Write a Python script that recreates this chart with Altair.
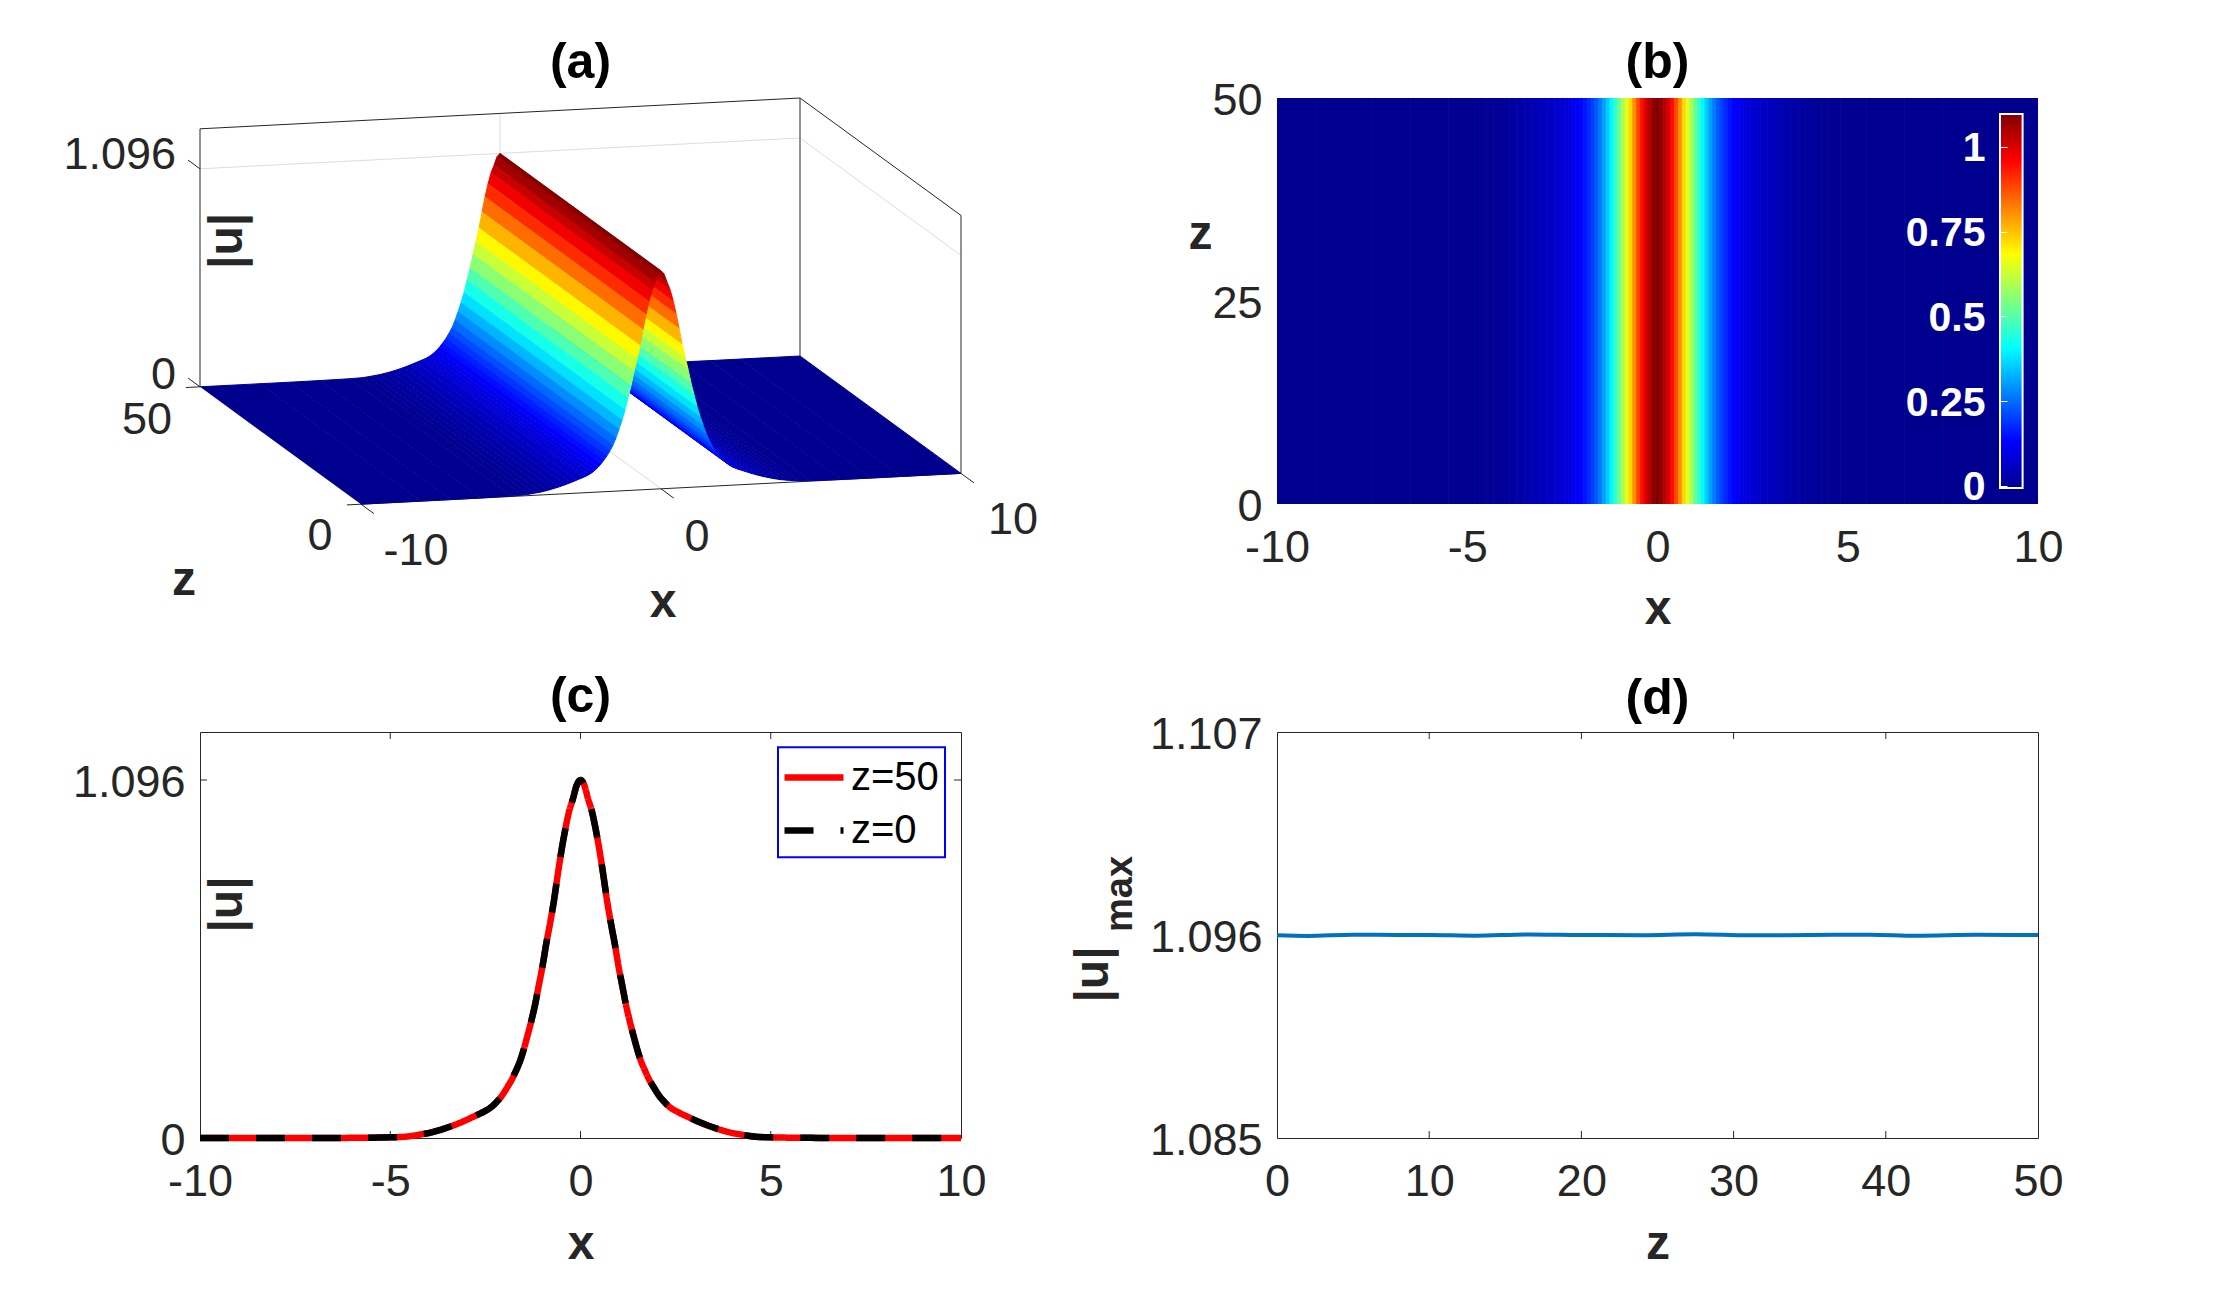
import altair as alt
import pandas as pd

# right half of the soliton profile, mirrored below
x_half = [0, 0.1, 0.2, 0.3, 0.4, 0.5, 0.6, 0.7, 0.8, 0.9, 1.0, 1.1, 1.2, 1.3, 1.4, 1.5, 1.6, 1.7, 1.8, 1.9,
          2.0, 2.1, 2.2, 2.3, 2.4, 2.5, 2.6, 2.8, 3.0, 3.2, 3.4, 3.6, 3.8, 4.0, 4.2, 4.4, 4.6, 5, 6, 7, 8, 10]
u_half = [1.096, 1.08, 1.038, 1.0, 0.945, 0.88, 0.805, 0.725, 0.657, 0.595, 0.525, 0.465, 0.405, 0.355, 0.31, 0.268,
          0.232, 0.205, 0.18, 0.16, 0.141, 0.124, 0.111, 0.099, 0.09, 0.083, 0.077, 0.066, 0.055, 0.045, 0.036,
          0.028, 0.021, 0.015, 0.011, 0.007, 0.004, 0.002, 0.0005, 0, 0, 0]

z_max = [0, 2, 5, 8, 10, 13, 16.5, 20, 24, 27.5, 31, 35, 39, 42, 46, 50]
u_max = [1.09598, 1.09595, 1.09602, 1.096, 1.096, 1.09596, 1.09603, 1.096, 1.09599, 1.09604, 1.09598, 1.096,
         1.09602, 1.09596, 1.09601, 1.096]

x_ticks = [-10, -5, 0, 5, 10]
z_ticks_d = [0, 10, 20, 30, 40, 50]
z_ticks_b = [0, 25, 50]
u_ticks_c = [0, 1.096]
u_ticks_d = [1.085, 1.096, 1.107]
bar_ticks = [0, 0.25, 0.5, 0.75, 1]

jet_stops = [0, 0.125, 0.375, 0.625, 0.875, 1]
jet_colors = ["#00008f", "#0000ff", "#00ffff", "#ffff00", "#ff0000", "#800000"]

W, H = 761, 406
FONT = "Liberation Sans"
INK = "#262626"
PEAK = 1.096
U_TOP = 1.297

JET = alt.Scale(domain=[s * PEAK for s in jet_stops], range=jet_colors, interpolate="rgb")

x_all = [-v for v in reversed(x_half[1:])] + x_half
u_all = list(reversed(u_half[1:])) + u_half


def axis(values, title, **kw):
    return alt.Axis(
        values=values, title=title, labelExpr="datum.value + ''", labelFont=FONT, labelFontSize=45,
        labelColor=INK, labelOverlap=False, labelFlush=False, labelBound=False, titleFont=FONT, titleFontSize=48,
        titleFontWeight="bold", titleColor=INK, titleBaseline="middle", ticks=False, tickSize=0, domain=False,
        grid=False, **kw,
    )


def x_axis(values, title, title_y=106):
    return axis(values, title, labelPadding=21, titleY=title_y, titleX=W / 2)


def y_axis(values, title, title_x, title_y, angle=270):
    return axis(values, title, labelPadding=15, labelOffset=2, titleAngle=angle, titleX=title_x, titleY=title_y)


def panel_title(text, offset):
    return alt.TitleParams(text, font=FONT, fontSize=50, fontWeight="bold", color="black", offset=offset)


def inner_ticks(xs, ys, x_scale, y_scale, x_ax, y_ax, length=7):
    # MATLAB style ticks pointing into the box, on all four sides
    xdf = pd.DataFrame({"t": xs})
    ydf = pd.DataFrame({"t": ys})
    tick = dict(color=INK, strokeWidth=1)
    x_enc = alt.X("t:Q", scale=x_scale, axis=x_ax)
    y_enc = alt.Y("t:Q", scale=y_scale, axis=y_ax)
    return [
        alt.Chart(xdf).mark_rule(**tick).encode(x=x_enc, y=alt.value(H), y2=alt.value(H - length)),
        alt.Chart(xdf).mark_rule(**tick).encode(x=x_enc, y=alt.value(0), y2=alt.value(length)),
        alt.Chart(ydf).mark_rule(**tick).encode(y=y_enc, x=alt.value(0), x2=alt.value(length)),
        alt.Chart(ydf).mark_rule(**tick).encode(y=y_enc, x=alt.value(W), x2=alt.value(W - length)),
    ]


# panel (a): oblique projection of (x, z, u) on the panel plane
def project(x, z, u):
    back = (50 - z) / 50
    return 30 * (x + 10) + 161 * back, 288.8 - 1.54 * (x + 10) + 117.4 * back - u * 198.9


def segments(rows):
    out = []
    for a, b in rows:
        sx, sy = project(*a)
        sx2, sy2 = project(*b)
        out.append({"sx": sx, "sy": sy, "sx2": sx2, "sy2": sy2})
    return pd.DataFrame(out)


dark_edges = [
    ((-10, 50, 0), (-10, 50, U_TOP)), ((-10, 50, U_TOP), (10, 50, U_TOP)), ((10, 50, U_TOP), (10, 50, 0)),
    ((10, 50, U_TOP), (10, 0, U_TOP)), ((10, 0, U_TOP), (10, 0, 0)), ((-10, 0, 0), (10, 0, 0)),
    ((-10, 50, PEAK), (-10, 53.7, PEAK)), ((-10, 50, 0), (-10, 53.7, 0)),
    ((-10, 0, 0), (-10, -4, 0)), ((0, 0, 0), (0, -4, 0)), ((10, 0, 0), (10, -4, 0)),
    ((-10, 0, 0), (-10.47, 0, 0)), ((-10, 50, 0), (-10.47, 50, 0)),
]
light_edges = [
    ((-10, 50, PEAK), (10, 50, PEAK)), ((10, 50, PEAK), (10, 0, PEAK)),
    ((0, 50, 0), (0, 50, U_TOP)), ((0, 0, 0), (0, 50, 0)),
]

# surface strips between grid lines, drawn from the far right to the near left
strips = []
for s in range(len(x_all) - 2, -1, -1):
    x0, x1, u0, u1 = x_all[s], x_all[s + 1], u_all[s], u_all[s + 1]
    corners = [(x0, 0, u0), (x1, 0, u1), (x1, 50, u1), (x0, 50, u0)]
    for i, c in enumerate(corners):
        sx, sy = project(*c)
        strips.append({"strip": s, "i": i, "sx": sx, "sy": sy, "u": (u0 + u1) / 2})
strips = pd.DataFrame(strips)

tick_labels_a = [
    ("1.096", -10, 50, PEAK, -24, -14, "right"), ("0", -10, 50, 0, -24, -12, "right"),
    ("50", -10, 50, 0, -28, 33, "right"), ("0", -10, 0, 0, -41, 32, "center"),
    ("-10", -10, 0, 0, 55, 47, "center"), ("0", 0, 0, 0, 36, 48, "center"), ("10", 10, 0, 0, 52, 47, "center"),
]
title_labels_a = [("z", -10, 0, 0, -177, 77, 0), ("x", 0, 0, 0, 2, 114, 0), ("|u|", -10, 50, PEAK, 28, 72, 270)]


def label_frame(rows):
    out = []
    for text, x, z, u, dx, dy, extra in rows:
        sx, sy = project(x, z, u)
        out.append({"text": text, "sx": sx + dx, "sy": sy + dy, "extra": extra})
    return pd.DataFrame(out)


px_x = alt.X("sx:Q", scale=alt.Scale(domain=[0, W], nice=False), axis=None)
px_y = alt.Y("sy:Q", scale=alt.Scale(domain=[H, 0], nice=False), axis=None)


def edge_layer(rows, color):
    return alt.Chart(segments(rows)).mark_rule(color=color, strokeWidth=1).encode(x=px_x, y=px_y, x2="sx2:Q", y2="sy2:Q")


surface = alt.Chart(strips).mark_line(strokeWidth=1).encode(
    x=px_x, y=px_y, order="i:Q", detail="strip:N",
    fill=alt.Fill("u:Q", scale=JET, legend=None),
    stroke=alt.Stroke("u:Q", scale=JET, legend=None),
)

tick_df = label_frame(tick_labels_a)
text_a = dict(font=FONT, fontSize=45, color=INK, baseline="middle")
labels_right = alt.Chart(tick_df[tick_df.extra == "right"]).mark_text(align="right", **text_a).encode(x=px_x, y=px_y, text="text:N")
labels_center = alt.Chart(tick_df[tick_df.extra == "center"]).mark_text(align="center", **text_a).encode(x=px_x, y=px_y, text="text:N")
title_df = label_frame(title_labels_a)
bold_a = dict(font=FONT, fontSize=48, fontWeight="bold", color=INK, baseline="middle", align="center")
titles_flat = alt.Chart(title_df[title_df.extra == 0]).mark_text(**bold_a).encode(x=px_x, y=px_y, text="text:N")
titles_up = alt.Chart(title_df[title_df.extra == 270]).mark_text(angle=270, **bold_a).encode(x=px_x, y=px_y, text="text:N")

panel_a = alt.layer(
    edge_layer(light_edges, "#dcdcdc"), edge_layer(dark_edges, INK), surface,
    labels_right, labels_center, titles_flat, titles_up,
).properties(width=W, height=H, title=panel_title("(a)", 10), view=alt.ViewBackground(stroke=None))

# panel (b): map of the same profile, one column per grid step
edges = [-10] + [(a + b) / 2 for a, b in zip(x_all[:-1], x_all[1:])] + [10]
heat_df = pd.DataFrame({"x0": edges[:-1], "x1": edges[1:], "z0": 0, "z1": 50, "u": u_all})

heat = alt.Chart(heat_df).mark_rect(strokeWidth=0.8, clip=True).encode(
    x=alt.X("x0:Q", scale=alt.Scale(domain=[-10, 10], nice=False), axis=x_axis(x_ticks, "x", 105)),
    x2="x1:Q",
    y=alt.Y("z0:Q", scale=alt.Scale(domain=[0, 50], nice=False), axis=y_axis(z_ticks_b, "z", -77, 136, 0)),
    y2="z1:Q",
    fill=alt.Fill("u:Q", scale=JET, legend=None),
    stroke=alt.Stroke("u:Q", scale=JET, legend=None),
)

jet_gradient = alt.LinearGradient(
    gradient="linear", x1=0, x2=0, y1=1, y2=0,
    stops=[alt.GradientStop(color=c, offset=s) for c, s in zip(jet_colors, jet_stops)],
)
colorbar = alt.Chart(pd.DataFrame({"lo": [-0.006], "hi": [1.097]})).mark_rect(
    color=jet_gradient, stroke="white", strokeWidth=2
).encode(
    x=alt.value(723), x2=alt.value(745.6),
    y=alt.Y("lo:Q", scale=alt.Scale(domain=[-0.006, 1.097], range=[390, 16], nice=False),
            axis=alt.Axis(values=bar_ticks, title=None, orient="left", offset=-730, labelExpr="datum.value + ''",
                          labelFont=FONT, labelFontSize=41, labelFontWeight="bold", labelColor="white",
                          labelPadding=15, labelOffset=2, tickColor="white", tickSize=7, domain=False, grid=False,
                          labelFlush=False, labelBound=False, labelOverlap=False, zindex=1)),
    y2="hi:Q",
)
panel_b = alt.layer(heat, colorbar).resolve_scale(y="independent").properties(
    width=W, height=H, title=panel_title("(b)", -10), view=alt.ViewBackground(stroke=None)
)

# panel (c): profiles at both ends of the propagation
series_names = ["z=50", "z=0"]
profile_df = pd.concat([pd.DataFrame({"x": x_all, "u": u_all, "series": n}) for n in series_names])
# legendX/legendY count from the top left of the whole grid here, so the second row's offset is added
legend_c = alt.Legend(
    title=None, orient="none", legendX=581, legendY=646.5, padding=0,
    symbolType="stroke", symbolSize=3481, symbolStrokeWidth=6.5, labelFont=FONT, labelFontSize=40, labelColor="black",
    labelOffset=4, rowPadding=0,
)
x_scale_c = alt.Scale(domain=[-10, 10], nice=False)
y_scale_c = alt.Scale(domain=[0, 1.243], nice=False)
x_axis_c = x_axis(x_ticks, "x")
y_axis_c = y_axis(u_ticks_c, "|u|", 27, 172)
profile_line = alt.Chart(profile_df).mark_line(strokeWidth=6.5, interpolate="monotone").encode(
    x=alt.X("x:Q", scale=x_scale_c, axis=x_axis_c),
    y=alt.Y("u:Q", scale=y_scale_c, axis=y_axis_c),
    color=alt.Color("series:N", sort=series_names, scale=alt.Scale(domain=series_names, range=["#ff0000", "#000000"]), legend=legend_c),
    strokeDash=alt.StrokeDash("series:N", sort=series_names, scale=alt.Scale(domain=series_names, range=[[1, 0], [29, 27]]), legend=legend_c),
)
legend_box = alt.Chart(pd.DataFrame({"a": [0]})).mark_rect(fill="white", stroke="#0000ff", strokeWidth=2).encode(
    x=alt.value(578), x2=alt.value(745), y=alt.value(15.3), y2=alt.value(125.2)
)
ticks_c = inner_ticks([-5, 0, 5], [1.096], x_scale_c, y_scale_c, x_axis_c, y_axis_c)
panel_c = alt.layer(*ticks_c, legend_box, profile_line).properties(width=W, height=H, title=panel_title("(c)", 10))

# panel (d): peak amplitude along z
x_scale_d = alt.Scale(domain=[0, 50], nice=False)
y_scale_d = alt.Scale(domain=[1.085, 1.107], nice=False)
x_axis_d = x_axis(z_ticks_d, "z")
y_axis_d = y_axis(u_ticks_d, "|u|", -184, 242)
amp_line = alt.Chart(pd.DataFrame({"z": z_max, "u": u_max})).mark_line(color="#0072bd", strokeWidth=4, interpolate="monotone").encode(
    x=alt.X("z:Q", scale=x_scale_d, axis=x_axis_d),
    y=alt.Y("u:Q", scale=y_scale_d, axis=y_axis_d),
)
max_label = alt.Chart(pd.DataFrame({"text": ["max"]})).mark_text(
    font=FONT, fontSize=38, fontWeight="bold", color=INK, angle=270, baseline="middle", align="center"
).encode(x=alt.value(-156), y=alt.value(162), text="text:N")
ticks_d = inner_ticks(z_ticks_d[1:-1], [1.096], x_scale_d, y_scale_d, x_axis_d, y_axis_d)
panel_d = alt.layer(*ticks_d, amp_line, max_label).properties(width=W, height=H, title=panel_title("(d)", -12))

chart = (
    alt.concat(panel_a, panel_b, panel_c, panel_d, columns=2, spacing={"column": 316, "row": 228}, bounds="flush")
    .properties(padding={"left": 55, "top": 29, "right": 10, "bottom": 10}, background="white")
    .configure_view(stroke=INK, strokeWidth=1)
)
chart.save("out.html", embed_options={"renderer": "svg", "actions": False})
